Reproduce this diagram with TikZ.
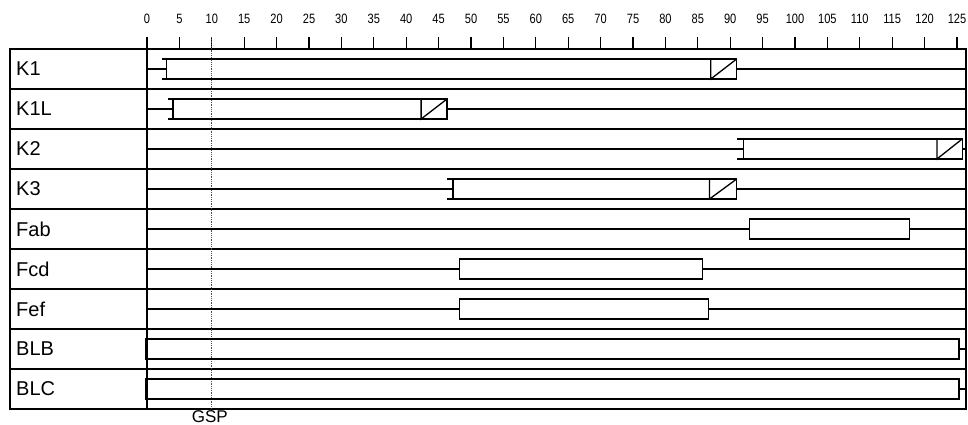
\documentclass[tikz,border=0pt]{standalone}
\usepackage{fontspec}
\setmainfont{Liberation Sans}
\newfontfamily\axisfont[FakeStretch=0.82]{Liberation Sans}
\usetikzlibrary{positioning}

\tikzset{
  grid/.style={line width=1.3pt},
  sig/.style={line width=1.9pt},
  bar/.style={line width=1.3pt},
  rowlabel/.style={anchor=west,inner sep=0pt,font=\fontsize{20}{22}\selectfont},
  ticklabel/.style={inner sep=0pt,font=\axisfont\fontsize{13.5}{14}\selectfont}
}

\begin{document}
\begin{tikzpicture}[x=1pt,y=-1pt]
\useasboundingbox (0,0) rectangle (968,425);

% table frame and rows
\draw[grid] (10,49) rectangle (966,409);
\draw[grid] (147,49)--(147,409);
\foreach \r in {89,129,...,369} \draw[grid] (10,\r)--(966,\r);

% row names
\node[rowlabel] (k1) at (16,69) {K1};
\node[rowlabel] (k1l) at (16,109) {K1L};
\node[rowlabel] (k2) at (16,149) {K2};
\node[rowlabel] (k3) at (16,189) {K3};
\node[rowlabel] (fab) at (16,229) {Fab};
\node[rowlabel] (fcd) at (16,269) {Fcd};
\node[rowlabel] (fef) at (16,309) {Fef};
\node[rowlabel] (blb) at (16,349) {BLB};
\node[rowlabel] (blc) at (16,389) {BLC};

\begin{scope}[shift={(147,0)},x=6.48pt]
% time axis
\foreach \t in {0,5,...,125} {
  \draw[line width=1.2pt] (\t,37)--(\t,48);
  \node[ticklabel] (t\t) at (\t,19) {\t};
}
% GSP marker
\draw[line width=0.8pt,densely dotted,black!70] (10,37)--(10,410);
\node[inner sep=0pt,font=\fontsize{17}{18}\selectfont] (gsp) at (9.7,416.5) {GSP};

% K1
\draw[sig] (0,69)--(3,69);
\draw[bar] (3,59) rectangle (91,79);
\draw[bar] (2.3,59)--(3,59) (2.3,79)--(3,79);
\draw[bar] (87,59)--(87,79)--(91,59);
\draw[sig] (91,69)--(126.4,69);
% K1L
\draw[sig] (0,109)--(4,109);
\draw[bar] (4,99) rectangle (46.3,119);
\draw[bar] (3.2,99)--(4,99) (3.2,119)--(4,119);
\draw[bar] (42.3,99)--(42.3,119)--(46.3,99);
\draw[sig] (46.3,109)--(126.4,109);
% K2
\draw[sig] (0,149)--(92,149);
\draw[bar] (92,139) rectangle (125.8,159);
\draw[bar] (91.1,139)--(92,139) (91.1,159)--(92,159);
\draw[bar] (121.9,139)--(121.9,159)--(125.8,139);
\draw[sig] (125.8,149)--(126.4,149);
% K3
\draw[sig] (0,189)--(47.2,189);
\draw[bar] (47.2,179) rectangle (91,199);
\draw[bar] (46.3,179)--(47.2,179) (46.3,199)--(47.2,199);
\draw[bar] (86.8,179)--(86.8,199)--(91,179);
\draw[sig] (91,189)--(126.4,189);
% Fab
\draw[sig] (0,229)--(93,229);
\draw[bar] (93,219) rectangle (117.7,239);
\draw[sig] (117.7,229)--(126.4,229);
% Fcd
\draw[sig] (0,269)--(48.2,269);
\draw[bar] (48.2,259) rectangle (85.7,279);
\draw[sig] (85.7,269)--(126.4,269);
% Fef
\draw[sig] (0,309)--(48.2,309);
\draw[bar] (48.2,299) rectangle (86.6,319);
\draw[sig] (86.6,309)--(126.4,309);
% BLB
\draw[bar] (-0.2,339) rectangle (125.3,359);
\draw[sig] (125.3,349)--(126.4,349);
% BLC
\draw[bar] (-0.2,379) rectangle (125.3,399);
\draw[sig] (125.3,389)--(126.4,389);
\end{scope}
\end{tikzpicture}
\end{document}
